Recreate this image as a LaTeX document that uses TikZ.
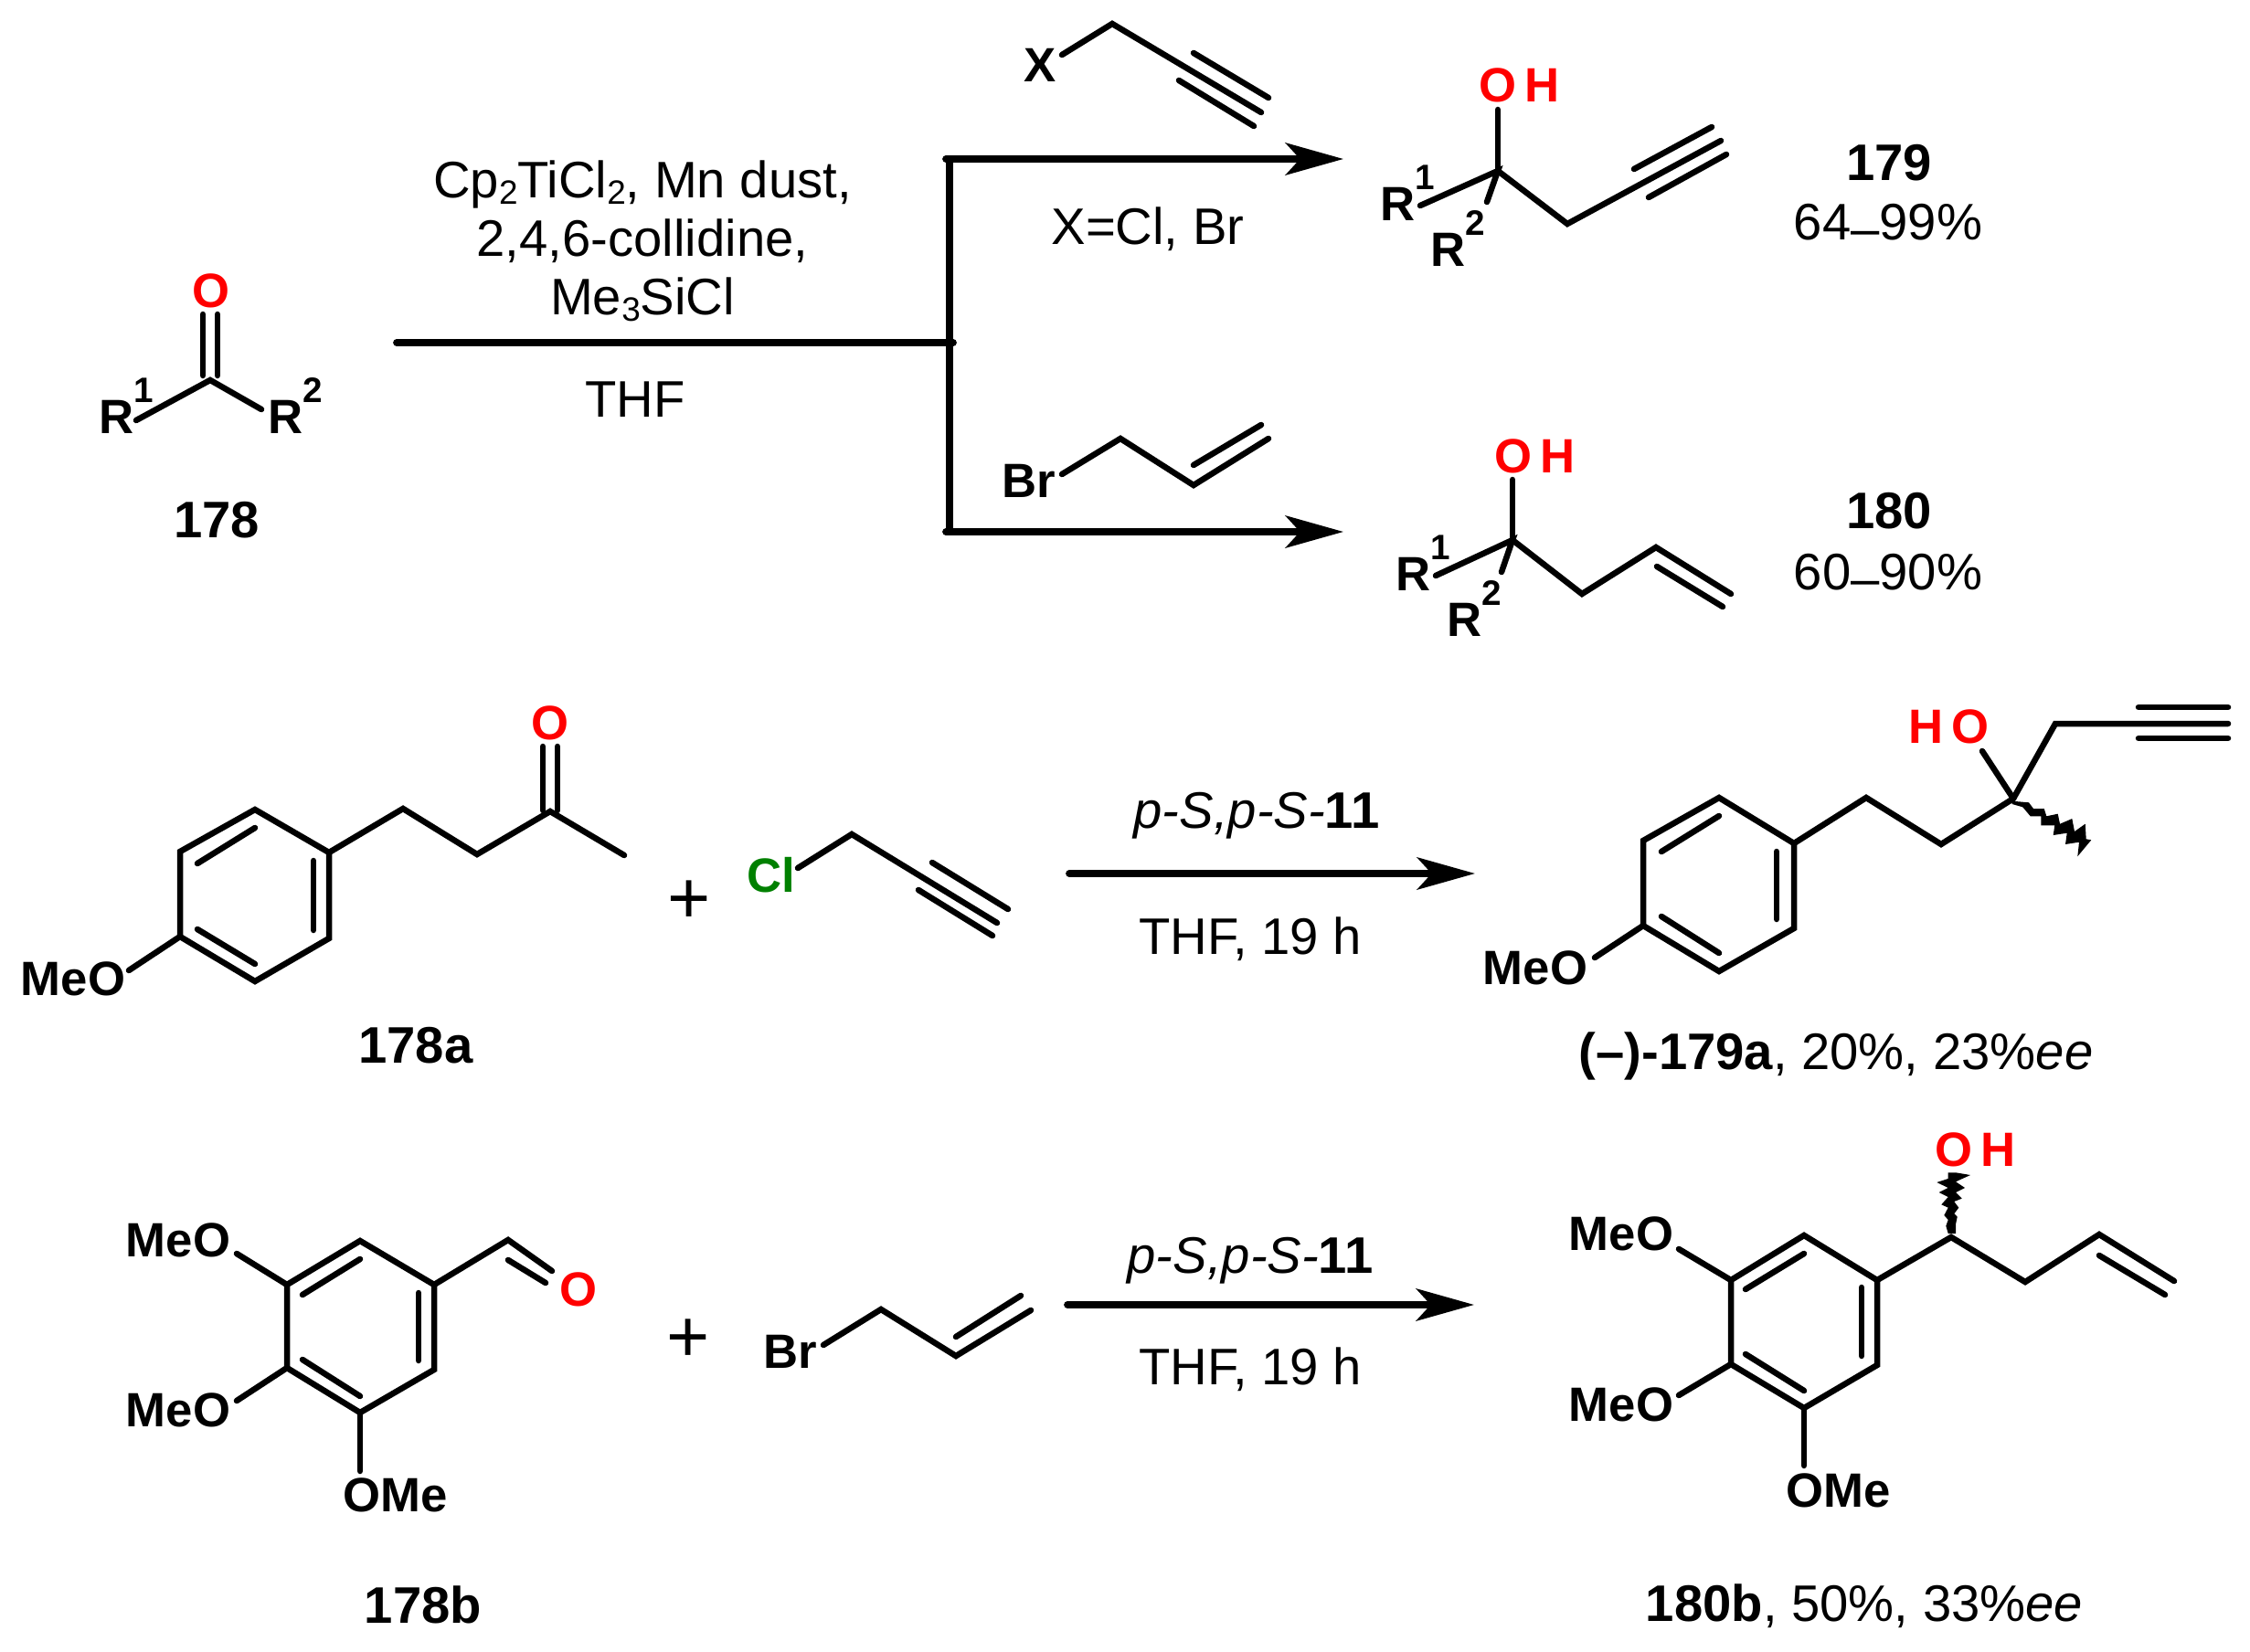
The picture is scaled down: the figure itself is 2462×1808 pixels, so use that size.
\documentclass[tikz,border=0pt]{standalone}
\usepackage{fontspec}
\setmainfont{Liberation Sans}
\usetikzlibrary{arrows.meta}
\definecolor{clgreen}{RGB}{0,128,0}
\newcommand{\Rlabel}[1]{R\raisebox{19pt}{\fontsize{22}{22}\selectfont #1}}
\newcommand{\lowdash}{\raisebox{-4pt}{--}}
\newcommand{\lowdigit}[1]{\raisebox{-4pt}{\fontsize{21}{21}\selectfont #1}}
\tikzset{
	bond/.style={line width=3.7pt, line cap=round, line join=miter},
	rxnline/.style={line width=4.4pt, line cap=round},
	rxnarrow/.style={rxnline, -{Stealth[length=36pt, width=20pt, inset=9pt]}},
	atom/.style={inner sep=0pt, font=\fontsize{30}{30}\selectfont\bfseries},
	oxy/.style={atom, text=red},
	plussign/.style={inner sep=0pt, font=\fontsize{46}{46}\selectfont},
	reagent/.style={inner sep=0pt, anchor=base, align=center, font=\fontsize{32}{36.4}\selectfont},
	compound/.style={reagent, font=\fontsize{32}{36.4}\selectfont\bfseries}
}
\begin{document}
\begin{tikzpicture}[x=0.02cm, y=-0.02cm]
	\useasboundingbox (0, 0) rectangle (2462, 1808);
	%%%%% TOP SCHEME %%%%%

	% ketone 178
	\draw[bond] (222, 344) -- (222, 411);
	\draw[bond] (238, 344) -- (238, 411);
	\draw[bond] (149, 460) -- (230, 416) -- (286, 448);
	\node[oxy] (ketO) at (231, 318) {O};
	\node[atom, anchor=base west] (ketRa) at (108, 474) {\Rlabel{1}};
	\node[atom, anchor=base west] (ketRb) at (293, 474) {\Rlabel{2}};
	\node[compound] (lab178) at (237, 588) {178};

	% branching arrows
	\coordinate (mainL) at (434, 375);
	\coordinate (mainR) at (1043, 375);
	\coordinate (forkT) at (1039, 174);
	\coordinate (forkB) at (1039, 582);
	\coordinate (stubT) at (1035, 174);
	\coordinate (stubB) at (1035, 582);
	\coordinate (tipT) at (1470, 174);
	\coordinate (tipB) at (1470, 582);
	\draw[rxnline] (mainL) -- (mainR);
	\draw[rxnline] (forkT) -- (forkB);
	\draw[rxnarrow] (stubT) -- (tipT);
	\draw[rxnarrow] (stubB) -- (tipB);
	\node[reagent] (condA) at (703, 344) {Cp\lowdigit{2}TiCl\lowdigit{2}, Mn dust,\\2,4,6-collidine,\\Me\lowdigit{3}SiCl};
	\node[reagent] (condB) at (695, 456) {THF};
	\node[reagent] (condX) at (1256, 267) {X=Cl, Br};

	% propargyl halide
	\node[atom] (haloX) at (1138, 71) {X};
	\draw[bond] (1162, 60) -- (1217, 26) -- (1380, 123);
	\draw[bond] (1306, 58) -- (1388, 107);
	\draw[bond] (1290, 88) -- (1372, 138);

	% allyl bromide
	\node[atom] (haloBr) at (1126, 526) {Br};
	\draw[bond] (1162, 519) -- (1226, 480) -- (1306, 531) -- (1388, 480);
	\draw[bond] (1306, 509) -- (1380, 465);

	% product 179
	\draw[bond] (1639, 120) -- (1639, 187);
	\draw[bond] (1554, 225) -- (1639, 187) -- (1627, 221);
	\draw[bond] (1639, 187) -- (1715, 245) -- (1883, 154);
	\draw[bond] (1788, 185) -- (1873, 139);
	\draw[bond] (1804, 216) -- (1889, 169);
	\node[oxy, anchor=base west] (prodaO) at (1618, 112) {O\kern5pt H};
	\node[atom, anchor=base west] (prodaRa) at (1510, 241) {\Rlabel{1}};
	\node[atom, anchor=base west] (prodaRb) at (1565, 291) {\Rlabel{2}};
	\node[compound] (lab179) at (2067, 197) {179};
	\node[reagent] (yield179) at (2066, 262) {64\lowdash 99\%};

	% product 180
	\draw[bond] (1655, 525) -- (1655, 591);
	\draw[bond] (1571, 630) -- (1655, 591) -- (1643, 626);
	\draw[bond] (1655, 591) -- (1731, 650) -- (1812, 599) -- (1894, 650);
	\draw[bond] (1813, 620) -- (1885, 664);
	\node[oxy, anchor=base west] (prodbO) at (1635, 517) {O\kern5pt H};
	\node[atom, anchor=base west] (prodbRa) at (1527, 646) {\Rlabel{1}};
	\node[atom, anchor=base west] (prodbRb) at (1583, 696) {\Rlabel{2}};
	\node[compound] (lab180) at (2067, 578) {180};
	\node[reagent] (yield180) at (2066, 645) {60\lowdash 90\%};

	%%%%% MIDDLE SCHEME %%%%%

	% ketone 178a
	\draw[bond] (279, 886) -- (360, 933) -- (360, 1027) -- (279, 1074) -- (197, 1025) -- (197, 932) -- cycle;
	\draw[bond] (216, 945) -- (279, 906);
	\draw[bond] (343, 942) -- (343, 1018);
	\draw[bond] (216, 1017) -- (279, 1055);
	\draw[bond] (197, 1025) -- (141, 1062);
	\draw[bond] (360, 933) -- (441, 885) -- (522, 935) -- (602, 888) -- (683, 936);
	\draw[bond] (594, 817) -- (594, 887);
	\draw[bond] (610, 817) -- (610, 887);
	\node[oxy] (ketaO) at (602, 791) {O};
	\node[atom] (ketaMeO) at (80, 1071) {MeO};
	\node[compound] (lab178a) at (455, 1163) {178a};
	\node[plussign] (plusA) at (754, 987) {+};

	% propargyl chloride
	\node[atom, text=clgreen] (chloro) at (844, 958) {Cl};
	\draw[bond] (873, 950) -- (932, 913) -- (1091, 1010);
	\draw[bond] (1020, 944) -- (1103, 995);
	\draw[bond] (1005, 974) -- (1086, 1024);

	% arrow
	\coordinate (arrAL) at (1170, 956);
	\coordinate (arrAR) at (1614, 956);
	\draw[rxnarrow] (arrAL) -- (arrAR);
	\node[reagent] (condC) at (1375, 906) {\textit{p-S,p-S-}\textbf{11}};
	\node[reagent] (condD) at (1368, 1044) {THF, 19 h};

	% product 179a
	\draw[bond] (1881, 873) -- (1963, 923) -- (1963, 1016) -- (1881, 1063) -- (1798, 1013) -- (1798, 920) -- cycle;
	\draw[bond] (1818, 932) -- (1881, 893);
	\draw[bond] (1944, 932) -- (1944, 1006);
	\draw[bond] (1818, 1003) -- (1881, 1043);
	\draw[bond] (1798, 1013) -- (1745, 1048);
	\draw[bond] (1963, 923) -- (2042, 873) -- (2124, 924) -- (2203, 874);
	\draw[bond] (2203, 874) -- (2169, 822);
	\draw[bond] (2203, 874) -- (2249, 792) -- (2438, 792);
	\draw[bond] (2340, 774) -- (2438, 774);
	\draw[bond] (2340, 808) -- (2438, 808);
	\fill (2201.7, 876.7) -- (2220, 878.3) -- (2225, 885) -- (2236.7, 885) -- (2239.3, 893.3) -- (2251.7, 890.7) -- (2254, 901.7) -- (2267.3, 896) -- (2270, 910) -- (2281.7, 901.7) -- (2282.7, 918.3) -- (2288.3, 919.3) -- (2273.3, 937.3) -- (2275, 921.7) -- (2260, 924) -- (2261.7, 911.7) -- (2246.7, 914) -- (2248.3, 903.3) -- (2233.3, 903.3) -- (2233.3, 893.3) -- (2221.7, 893.3) -- (2213.3, 883.3) -- (2201.7, 880) -- cycle;
	\node[oxy, anchor=base west] (prodcO) at (2088, 813) {H\kern5pt O};
	\node[atom] (prodcMeO) at (1680, 1059) {MeO};
	\node[reagent] (lab179a) at (2009, 1170) {\textbf{(--)-179a}, 20\%, 23\%\textit{ee}};

	%%%%% BOTTOM SCHEME %%%%%

	% aldehyde 178b
	\draw[bond] (394, 1358) -- (475, 1406) -- (475, 1499) -- (394, 1546) -- (314, 1497) -- (314, 1406) -- cycle;
	\draw[bond] (331, 1417) -- (394, 1378);
	\draw[bond] (458, 1415) -- (458, 1489);
	\draw[bond] (331, 1488) -- (394, 1528);
	\draw[bond] (314, 1406) -- (259, 1372);
	\draw[bond] (314, 1497) -- (259, 1533);
	\draw[bond] (394, 1546) -- (394, 1610);
	\draw[bond] (475, 1406) -- (556, 1357) -- (604, 1391);
	\draw[bond] (556, 1379) -- (597, 1404);
	\node[oxy] (aldO) at (633, 1411) {O};
	\node[atom] (aldMeOa) at (195, 1357) {MeO};
	\node[atom] (aldMeOb) at (195, 1543) {MeO};
	\node[atom] (aldOMe) at (433, 1636) {OMe};
	\node[compound] (lab178b) at (463, 1776) {178b};
	\node[plussign] (plusB) at (753, 1467) {+};

	% allyl bromide
	\node[atom] (allylBr) at (865, 1479) {Br};
	\draw[bond] (901, 1472) -- (964, 1433) -- (1046, 1484) -- (1128, 1434);
	\draw[bond] (1046, 1463) -- (1117, 1418);

	% arrow
	\coordinate (arrBL) at (1168, 1428);
	\coordinate (arrBR) at (1613, 1428);
	\draw[rxnarrow] (arrBL) -- (arrBR);
	\node[reagent] (condE) at (1368, 1393) {\textit{p-S,p-S-}\textbf{11}};
	\node[reagent] (condF) at (1368, 1515) {THF, 19 h};

	% product 180b
	\draw[bond] (1974, 1352) -- (2054, 1401) -- (2054, 1494) -- (1974, 1541) -- (1894, 1493) -- (1894, 1401) -- cycle;
	\draw[bond] (1910, 1411) -- (1974, 1372);
	\draw[bond] (2037, 1409) -- (2037, 1484);
	\draw[bond] (1910, 1482) -- (1974, 1522);
	\draw[bond] (1894, 1401) -- (1837, 1367);
	\draw[bond] (1894, 1493) -- (1837, 1527);
	\draw[bond] (1974, 1541) -- (1974, 1604);
	\draw[bond] (2054, 1401) -- (2135, 1354) -- (2216, 1403) -- (2297, 1351) -- (2379, 1402);
	\draw[bond] (2297, 1374) -- (2369, 1417);
	\fill (2140, 1350) -- (2140, 1340) -- (2141.7, 1331.7) -- (2138.3, 1328.3) -- (2143.3, 1321.7) -- (2138.3, 1315) -- (2146.7, 1311.7) -- (2140, 1305) -- (2150, 1300) -- (2140, 1293.3) -- (2156, 1286) -- (2140, 1283.3) -- (2131.7, 1283.3) -- (2131.7, 1290) -- (2119.3, 1294) -- (2131.7, 1300) -- (2121.7, 1305) -- (2131.7, 1310) -- (2124.3, 1318.3) -- (2131.7, 1321.7) -- (2127.3, 1330) -- (2131.7, 1335) -- (2129.3, 1341.7) -- (2131.7, 1350) -- cycle;
	\node[oxy, anchor=base west] (proddO) at (2117, 1276) {O\kern5pt H};
	\node[atom] (proddMeOa) at (1774, 1350) {MeO};
	\node[atom] (proddMeOb) at (1774, 1537) {MeO};
	\node[atom] (proddOMe) at (2012, 1631) {OMe};
	\node[reagent] (lab180b) at (2040, 1774) {\textbf{180b}, 50\%, 33\%\textit{ee}};

	%%%%% END %%%%%
\end{tikzpicture}
\end{document}
